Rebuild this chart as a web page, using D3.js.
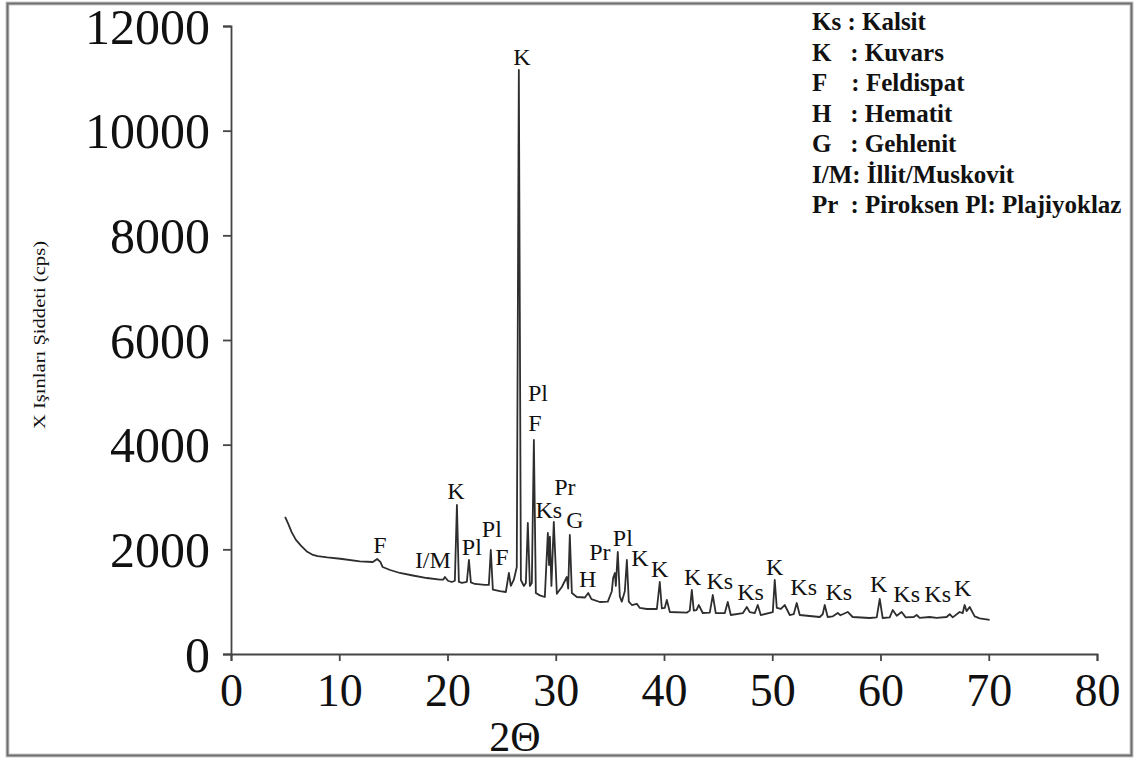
<!DOCTYPE html>
<html>
<head>
<meta charset="utf-8">
<script src="https://cdn.jsdelivr.net/npm/d3@7"></script>
<style>
  html, body { margin: 0; padding: 0; background: #fff; }
  svg { display: block; }
  text { font-family: "Liberation Serif", "Times New Roman", serif; fill: #111; }
</style>
</head>
<body>
<svg id="chart" width="1141" height="760"></svg>
<script>
// ---- data ----
const twoTheta = [
  5.0, 5.3, 5.6, 6.0, 6.5, 7.0, 7.5, 8.0, 8.9, 10.1, 11.9, 13.1, 13.5, 13.8, 14.0, 14.7, 15.6, 16.8, 18.1, 19.3, 19.6, 19.76,
  20.04, 20.4, 20.68, 20.87, 21.05, 21.33, 21.79, 21.98, 22.16, 22.53, 23.45, 23.82, 24.0, 24.19, 24.84, 25.39, 25.67, 25.85, 26.13, 26.4,
  26.59, 26.78, 27.05, 27.24, 27.42, 27.61, 27.79, 27.98, 28.16, 28.53, 28.99, 29.27, 29.38, 29.46, 29.6, 29.82, 30.1, 30.56, 31.02, 31.15,
  31.3, 31.49, 31.95, 32.7, 33.0, 33.3, 34.07, 34.81, 35.18, 35.3, 35.46, 35.55, 35.73, 35.92, 36.1, 36.38, 36.57, 36.75, 37.03, 37.49,
  37.77, 38.41, 39.34, 39.61, 39.8, 40.07, 40.26, 40.54, 42.1, 42.38, 42.57, 42.75, 43.0, 43.21, 43.58, 44.23, 44.51, 44.78, 45.61, 45.89,
  46.17, 47.28, 47.65, 47.92, 48.38, 48.66, 48.94, 50.05, 50.23, 50.42, 50.8, 51.15, 51.62, 51.98, 52.26, 52.54, 54.39, 54.66, 54.85, 55.12,
  55.6, 56.05, 56.3, 56.51, 56.97, 57.43, 59.0, 59.65, 59.93, 60.2, 60.85, 61.13, 61.5, 61.95, 62.33, 63.07, 63.34, 63.62, 64.54, 65.19,
  66.11, 66.39, 66.67, 67.31, 67.59, 67.77, 67.95, 68.24, 68.7, 69.16, 70.08
];
const intensity = [
  2618, 2480, 2330, 2180, 2060, 1960, 1900, 1870, 1845, 1820, 1770, 1758, 1815, 1760, 1663, 1605, 1548, 1500, 1452, 1420, 1420, 1471,
  1400, 1376, 1400, 2847, 1376, 1360, 1380, 1796, 1370, 1338, 1319, 1320, 1987, 1230, 1200, 1185, 1548, 1300, 1420, 1663,
  11160, 1414, 1300, 1357, 2503, 1300, 1357, 4090, 1166, 1120, 1089, 2312, 1700, 2240, 1300, 2523, 1150, 1280, 1471, 1250,
  2274, 1166, 1089, 1080, 1166, 1050, 994, 1000, 1200, 1450, 1548, 1300, 1949, 1100, 1000, 1200, 1796, 1000, 936, 960,
  880, 860, 860, 1376, 870, 880, 1032, 803, 790, 830, 1223, 830, 840, 936, 783, 790, 1127, 783, 780, 994,
  745, 780, 898, 800, 780, 936, 745, 800, 1414, 879, 860, 936, 745, 760, 974, 745, 707, 760, 936, 707,
  720, 783, 740, 760, 803, 707, 688, 700, 1051, 688, 700, 841, 730, 803, 700, 707, 745, 690, 707, 690,
  707, 760, 700, 803, 780, 936, 820, 898, 720, 680, 650
];
// peak annotations: label, 2θ position of label centre, intensity level of label baseline
const peakLabels = ["F", "I/M", "K", "Pl", "Pl", "F", "K", "Pl", "F", "Ks", "Pr", "G", "H", "Pr", "Pl", "K", "K", "K", "Ks", "Ks", "K", "Ks", "Ks", "K", "Ks", "Ks", "K"];
const peakAt2T  = [13.76, 18.65, 20.78, 22.25, 24.1, 25.02, 26.87, 28.35, 28.07, 29.36, 30.84, 31.76, 32.96, 34.07, 36.2, 37.77, 39.61, 42.66, 45.15, 48.0, 50.23, 52.9, 56.14, 59.83, 62.42, 65.28, 67.59];
const peakLabelY = [1930, 1640, 2960, 1890, 2240, 1700, 11260, 4830, 4270, 2600, 3040, 2410, 1280, 1800, 2070, 1680, 1470, 1320, 1240, 1030, 1510, 1130, 1030, 1190, 1000, 1000, 1110];

const legendLines = ["Ks : Kalsit", "K   : Kuvars", "F    : Feldispat", "H   : Hematit", "G   : Gehlenit", "I/M: İllit/Muskovit", "Pr  : Piroksen Pl: Plajiyoklaz"];
const xTicks = [0, 10, 20, 30, 40, 50, 60, 70, 80];
const yTicks = [0, 2000, 4000, 6000, 8000, 10000, 12000];
const xTitle = "2Θ";
const yTitle = "X Işınları Şiddeti (cps)";

// ---- drawing ----
const svg = d3.select("#chart");
const x = d3.scaleLinear().domain([0, 80]).range([231, 1097]);
const y = d3.scaleLinear().domain([0, 12000]).range([654, 26]);

// outer frame
svg.append("rect").attr("x", 7.5).attr("y", 3.5).attr("width", 1124).attr("height", 752)
  .attr("fill", "none").attr("stroke", "#c8c8c8").attr("stroke-width", 4);
svg.append("rect").attr("x", 7.5).attr("y", 3.5).attr("width", 1124).attr("height", 752)
  .attr("fill", "none").attr("stroke", "#6e6e6e").attr("stroke-width", 2);

// axes
const gx = svg.append("g").attr("transform", `translate(0,${y(0)})`)
  .call(d3.axisBottom(x).tickValues(xTicks).tickSize(7).tickPadding(12).tickFormat(d3.format("d")));
const gy = svg.append("g").attr("transform", `translate(${x(0)},0)`)
  .call(d3.axisLeft(y).tickValues(yTicks).tickSize(8).tickPadding(13).tickFormat(d3.format("d")));
[gx, gy].forEach(g => {
  g.selectAll("path, line").attr("stroke", "#444").attr("stroke-width", 1.8);
  g.selectAll("text").attr("fill", "#111").style("font-family", '"Liberation Serif", serif');
});
gx.selectAll("text").style("font-size", "46px").attr("dy", "0.72em");
gy.selectAll("text").style("font-size", "50px").attr("dy", "0.34em");

// pattern line
const pts = twoTheta.map((t, i) => [t, intensity[i]]);
svg.append("path").datum(pts)
  .attr("fill", "none").attr("stroke", "#2e2e2e").attr("stroke-width", 1.8)
  .attr("stroke-linejoin", "round")
  .attr("d", d3.line().x(d => x(d[0])).y(d => y(d[1])));

// peak labels
svg.append("g").selectAll("text").data(peakLabels).join("text")
  .attr("x", (d, i) => x(peakAt2T[i]))
  .attr("y", (d, i) => y(peakLabelY[i]))
  .attr("text-anchor", "middle")
  .style("font-size", "24px")
  .text(d => d);

// legend
svg.append("g").selectAll("text").data(legendLines).join("text")
  .attr("x", 812)
  .attr("y", (d, i) => 30 + i * 30.5)
  .style("font-size", "25px").style("font-weight", "bold")
  .style("white-space", "pre").attr("xml:space", "preserve")
  .text(d => d);

// axis titles
svg.append("text").attr("x", 515).attr("y", 751).attr("text-anchor", "middle")
  .style("font-size", "42px").text(xTitle);
svg.append("text").attr("transform", "translate(45,335) rotate(-90)")
  .attr("text-anchor", "middle").style("font-size", "17px")
  .attr("textLength", 188).attr("lengthAdjust", "spacingAndGlyphs")
  .text(yTitle);
</script>
</body>
</html>
